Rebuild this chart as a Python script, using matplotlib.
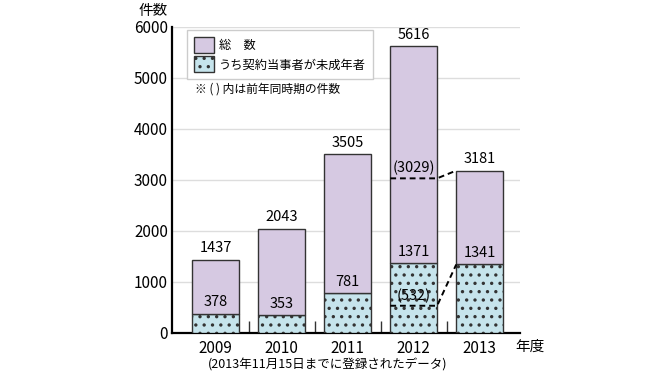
import matplotlib
matplotlib.use("Agg")
import matplotlib.pyplot as plt
from matplotlib.patches import Patch

plt.rcParams["font.family"] = ["Noto Sans CJK JP", "DejaVu Sans"]
plt.rcParams["hatch.linewidth"] = 1.2

years = ["2009", "2010", "2011", "2012", "2013"]
total = [1437, 2043, 3505, 5616, 3181]
minors = [378, 353, 781, 1371, 1341]
prev_total = 3029   # 2012, same period of previous year
prev_minors = 532

purple = "#d6c9e2"
blue = "#c6e4ec"
edge = "#333333"

fig = plt.figure(figsize=(6.7, 3.77), dpi=100)
ax = fig.add_axes([0.257, 0.117, 0.519, 0.812])

x = list(range(len(years)))
w = 0.71
upper = [t - m for t, m in zip(total, minors)]

ax.bar(x, minors, width=w, color=blue, edgecolor=edge, linewidth=1,
       hatch="..", zorder=3)
ax.bar(x, upper, width=w, bottom=minors, color=purple, edgecolor=edge,
       linewidth=1, zorder=3)

for i in x:
    ax.annotate(str(total[i]), (i, total[i]), xytext=(0, 3),
                textcoords="offset points", ha="center", va="bottom",
                fontsize=10.5)
    ax.annotate(str(minors[i]), (i, minors[i]), xytext=(0, 3),
                textcoords="offset points", ha="center", va="bottom",
                fontsize=10.5)

# previous-year comparison (dashed)
for prev, now in [(prev_total, total[4]), (prev_minors, minors[4])]:
    ax.plot([3 - w / 2, 3 + w / 2, 4 - w / 2], [prev, prev, now],
            ls=(0, (3, 2)), color="black", lw=1.4, zorder=4)
    ax.annotate(f"({prev})", (3, prev), xytext=(0, 2),
                textcoords="offset points", ha="center", va="bottom",
                fontsize=10.5, zorder=5)

ax.set_xlim(-0.66, 4.61)
ax.set_ylim(0, 6000)
ax.set_yticks(range(0, 6001, 1000))
ax.set_xticks(x)
ax.set_xticklabels(years, fontsize=11)
ax.set_xticks([0.5, 1.5, 2.5, 3.5], minor=True)
ax.tick_params(axis="x", which="major", length=0, pad=5)
ax.tick_params(axis="x", which="minor", direction="in", length=9,
               width=1, color=edge)
ax.tick_params(axis="y", length=0, labelsize=11, pad=3)
ax.yaxis.grid(True, color="#dddddd", lw=1, zorder=0)
ax.set_axisbelow(True)
for s in ["top", "right"]:
    ax.spines[s].set_visible(False)
ax.spines["left"].set_linewidth(1.6)
ax.spines["bottom"].set_linewidth(1.6)

handles = [Patch(facecolor=purple, edgecolor=edge, label="総　数"),
           Patch(facecolor=blue, edgecolor=edge, hatch="..",
                 label="うち契約当事者が未成年者")]
leg = ax.legend(handles=handles, loc="upper left",
                bbox_to_anchor=(0.025, 1.008), fontsize=8.8, frameon=True,
                fancybox=False, edgecolor="#cccccc", framealpha=1,
                handlelength=1.65, handleheight=1.65, handletextpad=0.45,
                borderpad=0.55, labelspacing=0.25)
leg.get_frame().set_linewidth(1)

ax.text(0.065, 0.795, "※ ( ) 内は前年同時期の件数", transform=ax.transAxes,
        fontsize=8.5, va="center")
fig.text(153 / 670, 1 - 11 / 377, "件数", fontsize=10.5, ha="center",
         va="center")
fig.text(515 / 670, 1 - 347 / 377, "年度", fontsize=10.5, ha="left",
         va="center")
fig.text(328 / 670, 1 - 365 / 377, "(2013年11月15日までに登録されたデータ)",
         fontsize=9, ha="center", va="center")

fig.savefig("out.png", dpi=100)
